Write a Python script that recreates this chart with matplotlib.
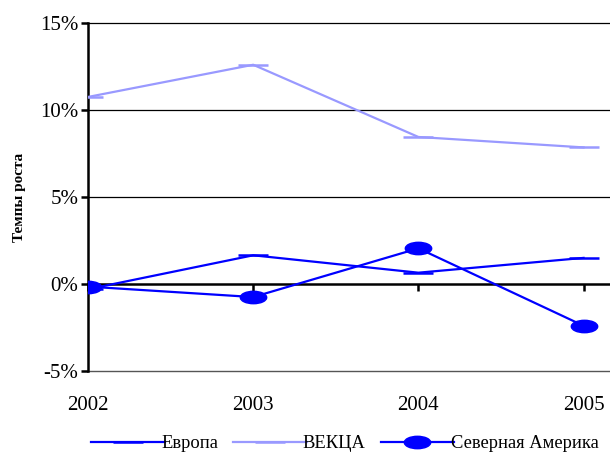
import numpy as np
import matplotlib
matplotlib.use("Agg")
import matplotlib.pyplot as plt
from matplotlib.path import Path
from matplotlib.transforms import Affine2D

years = ["2002", "2003", "2004", "2005"]
europe = [-0.3, 1.65, 0.65, 1.5]
ekca = [10.75, 12.6, 8.45, 7.85]
north_america = [-0.15, -0.75, 2.05, -2.4]

yticks = [-5, 0, 5, 10, 15]

plt.rcParams['font.family'] = ['Liberation Serif', 'DejaVu Serif']

fig = plt.figure(figsize=(6.1, 4.55), dpi=100)
ax = fig.add_axes([88 / 610, 1 - 371 / 455, 1 - 88 / 610, (371 - 23) / 455])

x = np.arange(len(years))
blue = '#0000FF'
light = '#9999FF'

# flattened ellipse marker
ellipse = Path.unit_circle().transformed(Affine2D().scale(1, 0.47))

ax.plot(x, europe, color=blue, lw=1.6, marker='_', ms=22, mew=1.8,
        label='Европа', zorder=4)
ax.plot(x, ekca, color=light, lw=1.6, marker='_', ms=22, mew=1.8,
        label='ВЕКЦА', zorder=4)
ax.plot(x, north_america, color=blue, lw=1.6, marker=ellipse, ms=19,
        mec=blue, mfc=blue, label='Северная Америка', zorder=4)

ax.set_xlim(0, 3.16)
ax.set_ylim(-5, 15)
ax.set_yticks(yticks)
ax.set_yticklabels([f"{v}%" for v in yticks], fontsize=15)

for v in [5, 10, 15]:
    ax.axhline(v, color='black', lw=0.9, zorder=1, clip_on=False)
ax.axhline(-5, color='#555555', lw=1.0, zorder=1, clip_on=False)

ax.spines['top'].set_visible(False)
ax.spines['right'].set_visible(False)
ax.spines['left'].set_linewidth(1.8)
ax.spines['left'].set_zorder(3)
ax.spines['bottom'].set_position(('data', 0))
ax.spines['bottom'].set_linewidth(1.8)
ax.spines['bottom'].set_zorder(3)

ax.set_xticks(x)
ax.set_xticklabels(years, fontsize=15)
ax.tick_params(axis='x', direction='out', length=5, width=1.8, pad=76)
ax.tick_params(axis='y', direction='out', length=5, width=1.8, pad=2)

ax.set_ylabel('Темпы роста', fontsize=11, fontweight='bold', labelpad=10)

leg = fig.legend(loc='lower center', bbox_to_anchor=(0.565, -0.03), ncol=3,
                 frameon=False, fontsize=13.3, handlelength=4.0,
                 handletextpad=-0.2, columnspacing=0.8)

fig.savefig('out.png', dpi=100)
